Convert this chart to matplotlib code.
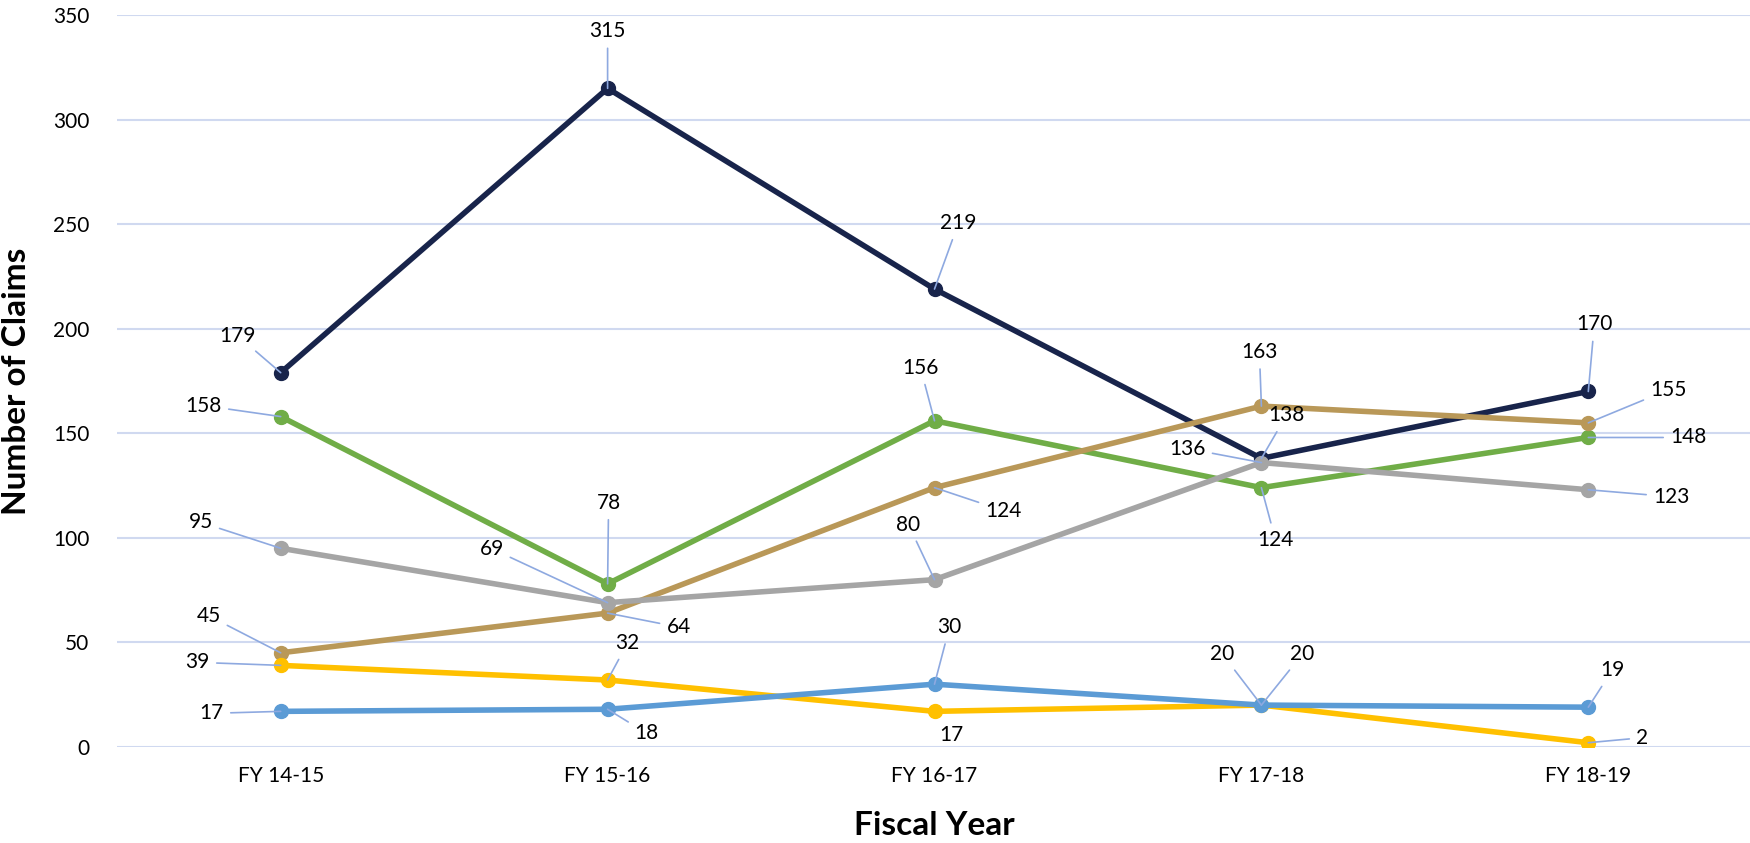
import matplotlib
matplotlib.use('Agg')
import matplotlib.pyplot as plt

plt.rcParams['font.family'] = ['Lato', 'DejaVu Sans']

# categories and claim counts per series
years = ['FY 14-15', 'FY 15-16', 'FY 16-17', 'FY 17-18', 'FY 18-19']
series_navy = [179, 315, 219, 138, 170]
series_green = [158, 78, 156, 124, 148]
series_tan = [45, 64, 124, 163, 155]
series_gray = [95, 69, 80, 136, 123]
series_yellow = [39, 32, 17, 20, 2]
series_blue = [17, 18, 30, 20, 19]

# label offsets in pixels (dx, dy) for each point, per series
label_offsets = {
    'navy': [(-43, 37), (0, 57), (24, 66), (25, 43), (6, 67)],
    'green': [(-77, 11), (1, 81), (-14, 53), (14, -52), (100, 0)],
    'tan': [(-72, 37), (71, -14), (69, -23), (-2, 54), (80, 33)],
    'gray': [(-80, 26), (-116, 54), (-26, 55), (-74, 14), (83, -7)],
    'yellow': [(-83, 3), (20, 37), (17, -24), (-39, 51), (54, 5)],
    'blue': [(-69, -2), (39, -24), (15, 57), (41, 51), (24, 37)],
}

series = [
    ('navy', series_navy, '#18244b'),
    ('green', series_green, '#70ad47'),
    ('tan', series_tan, '#b99858'),
    ('gray', series_gray, '#a5a5a5'),
    ('yellow', series_yellow, '#ffc000'),
    ('blue', series_blue, '#5b9bd5'),
]

fig = plt.figure(figsize=(17.5, 8.43), dpi=100)
ax = fig.add_axes([0.067, 0.114, 0.934, 0.868])

x = list(range(len(years)))
for name, vals, col in series:
    ax.plot(x, vals, color=col, linewidth=4, marker='o', markersize=10,
            solid_capstyle='round', zorder=3)
    for i, v in enumerate(vals):
        dx, dy = label_offsets[name][i]
        far = (dx * dx + dy * dy) ** 0.5 > 30
        ax.annotate(str(v), (i, v), xytext=(dx, dy), textcoords='offset pixels',
                    ha='center', va='center', fontsize=15, color='black',
                    arrowprops=dict(arrowstyle='-', color='#8ea9e0', lw=1.2,
                                    shrinkA=3, shrinkB=0) if far else None,
                    zorder=5)

ax.set_xlim(-0.5, 4.5)
ax.set_ylim(0, 350)
ax.set_yticks(range(0, 351, 50))
ax.set_xticks(x)
ax.set_xticklabels(years)
ax.tick_params(axis='both', length=0, labelsize=15)
ax.tick_params(axis='x', pad=14)
ax.tick_params(axis='y', pad=20)
ax.grid(axis='y', color='#d0d9f0', linewidth=1.5, zorder=0)
for s in ax.spines.values():
    s.set_visible(False)

ax.set_xlabel('Fiscal Year', fontsize=24, fontweight='bold', labelpad=18)
ax.set_ylabel('Number of Claims', fontsize=24, fontweight='bold')
ax.yaxis.set_label_coords(-0.053, 0.5)

fig.savefig('out.png', dpi=100)
